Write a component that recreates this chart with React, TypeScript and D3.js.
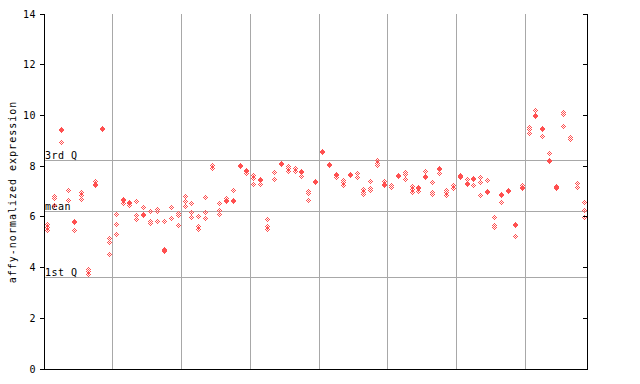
import React from "react";
import * as d3 from "d3";

// replicate values per sample (79 samples, left to right)
const sampleValues: number[][] = [
  [5.68, 5.59, 5.46],
  [6.82, 6.73, 6.45],
  [9.44, 9.4, 8.94],
  [7.02, 6.66],
  [5.8, 5.76, 5.47],
  [6.95, 6.86, 6.69],
  [3.93, 3.84, 3.71],
  [7.41, 7.28, 7.24],
  [9.5, 9.46],
  [5.13, 5.0, 4.52],
  [6.1, 5.71, 5.31],
  [6.68, 6.64, 6.52],
  [6.55, 6.51, 6.45],
  [6.61, 6.06, 5.9],
  [6.38, 6.11, 6.07],
  [6.22, 5.82, 5.72],
  [6.3, 6.22, 5.8],
  [5.8, 4.72, 4.66, 4.62],
  [6.38, 5.94],
  [6.14, 6.06, 5.64],
  [6.82, 6.61, 6.42],
  [6.53, 6.18, 5.98],
  [6.02, 5.63, 5.51],
  [6.77, 6.18, 5.94],
  [8.03, 7.9],
  [6.53, 6.26, 6.1],
  [6.73, 6.66, 6.62],
  [7.03, 6.66, 6.62],
  [8.01, 7.97],
  [7.84, 7.8, 7.7],
  [7.62, 7.52, 7.26],
  [7.46, 7.42, 7.26],
  [5.9, 5.63, 5.51],
  [7.75, 7.48],
  [8.1, 8.06],
  [7.99, 7.9, 7.77],
  [7.9, 7.77],
  [7.8, 7.76, 7.6],
  [7.0, 6.93, 6.66],
  [7.38, 7.34],
  [8.58, 8.54],
  [8.08, 8.04],
  [7.68, 7.64, 7.56],
  [7.45, 7.36, 7.22],
  [7.69, 7.65],
  [7.7, 7.56],
  [7.08, 6.98, 6.9],
  [7.4, 7.12, 7.03],
  [8.24, 8.11, 8.03],
  [7.4, 7.29, 7.25],
  [7.24, 7.16],
  [7.62, 7.58],
  [7.73, 7.69, 7.48],
  [7.2, 7.09, 6.97],
  [7.17, 7.13, 7.0],
  [7.79, 7.6, 7.56],
  [7.36, 6.97, 6.87],
  [7.92, 7.88, 7.71],
  [7.02, 6.98, 6.85],
  [7.23, 7.11],
  [7.65, 7.61, 7.56],
  [7.48, 7.33, 7.29],
  [7.5, 7.46, 7.24],
  [7.56, 7.36, 6.85],
  [7.44, 6.99, 6.95],
  [5.98, 5.67, 5.59],
  [6.87, 6.83, 6.55],
  [7.05, 7.01],
  [5.71, 5.67, 5.22],
  [7.22, 7.14, 7.1],
  [9.53, 9.45, 9.29],
  [10.21, 10.01, 9.97],
  [9.47, 9.43, 9.18],
  [8.5, 8.24, 8.2],
  [7.18, 7.14, 7.1],
  [10.1, 10.04, 9.57],
  [9.12, 9.06],
  [7.32, 7.16],
  [6.57, 6.26, 5.98],
];

const yTicks = [0, 2, 4, 6, 8, 10, 12, 14];
const groupSize = 10;
const refLines = [
  { label: "3rd Q", value: 8.23 },
  { label: "mean", value: 6.22 },
  { label: "1st Q", value: 3.62 },
];
const yLabel = "affy-normalized expression";

const W = 640;
const H = 384;
const left = 44;
const right = 587.5;
const top = 14;
const bottom = 369;
const red = "#ff5050";
const grid = "#a8a8a8";
const font = "'DejaVu Sans Mono', monospace";

// hatched diamond pixel pattern: center + ring at distance 2
const diamondPixels: [number, number][] = [];
for (let dx = -2; dx <= 2; dx++) {
  for (let dy = -2; dy <= 2; dy++) {
    const d = Math.abs(dx) + Math.abs(dy);
    if (d === 0 || d === 2) diamondPixels.push([dx, dy]);
  }
}

export default function App() {
  const x = d3
    .scaleBand<number>()
    .domain(sampleValues.map((_, i) => i))
    .range([left, right])
    .padding(0);
  const y = d3.scaleLinear().domain([0, 14]).range([bottom, top]);

  const points: { px: number; py: number }[] = [];
  sampleValues.forEach((vals, i) => {
    const cx = (x(i) as number) + x.bandwidth() / 2;
    vals.forEach((v) => {
      points.push({ px: Math.floor(cx), py: Math.floor(y(v)) });
    });
  });
  const d = points
    .map(({ px, py }) =>
      diamondPixels.map(([dx, dy]) => `M${px + dx},${py + dy}h1v1h-1z`).join("")
    )
    .join("");

  const groupLines: number[] = [];
  for (let i = groupSize; i < sampleValues.length; i += groupSize) {
    groupLines.push(Math.floor(x(i) as number) + 0.5);
  }

  return (
    <svg
      width={W}
      height={H}
      style={{ position: "absolute", left: 0, top: 0, background: "#fff" }}
    >
      {/* vertical group lines */}
      {groupLines.map((gx, i) => (
        <line key={"g" + i} x1={gx} x2={gx} y1={top} y2={bottom} stroke={grid} strokeWidth={1} shapeRendering="crispEdges" />
      ))}
      {/* reference lines */}
      {refLines.map((r) => {
        const ly = Math.floor(y(r.value)) + 0.5;
        return (
          <g key={r.label}>
            <line x1={left} x2={right} y1={ly} y2={ly} stroke={grid} strokeWidth={1} shapeRendering="crispEdges" />
            <text x={left + 1} y={ly - 1.5} fontFamily={font} fontSize={10} letterSpacing={0.5} fill="#000">
              {r.label}
            </text>
          </g>
        );
      })}
      {/* points */}
      <path d={d} fill={red} shapeRendering="crispEdges" />
      {/* axes */}
      <line x1={left + 0.5} x2={left + 0.5} y1={top} y2={bottom + 1} stroke="#000" shapeRendering="crispEdges" />
      <line x1={Math.floor(right) + 0.5} x2={Math.floor(right) + 0.5} y1={top} y2={bottom + 1} stroke="#000" shapeRendering="crispEdges" />
      <line x1={left} x2={Math.floor(right) + 1} y1={bottom + 0.5} y2={bottom + 0.5} stroke="#000" shapeRendering="crispEdges" />
      {yTicks.map((t) => {
        const ty = Math.floor(y(t)) + 0.5;
        return (
          <g key={"t" + t}>
            <line x1={left - 4} x2={left} y1={ty} y2={ty} stroke="#000" shapeRendering="crispEdges" />
            <line x1={Math.floor(right) - 4} x2={Math.floor(right)} y1={ty} y2={ty} stroke="#000" shapeRendering="crispEdges" />
            <text x={36} y={ty} dy="0.35em" textAnchor="end" fontFamily={font} fontSize={10} letterSpacing={0.5} fill="#000">
              {t}
            </text>
          </g>
        );
      })}
      <text
        transform={`translate(12,${(top + bottom) / 2 + 0.5}) rotate(-90)`}
        textAnchor="middle"
        dy="0.35em"
        fontFamily={font}
        fontSize={10}
        letterSpacing={1}
        fill="#000"
      >
        {yLabel}
      </text>
    </svg>
  );
}
